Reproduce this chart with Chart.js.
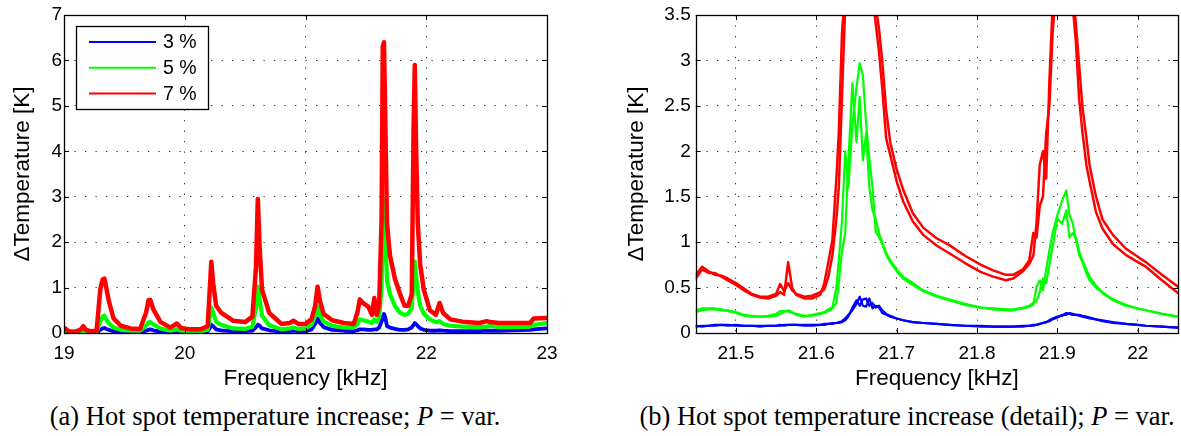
<!DOCTYPE html>
<html>
<head>
<meta charset="utf-8">
<script src="https://cdn.jsdelivr.net/npm/chart.js@4/dist/chart.umd.min.js"></script>
<style>
  html, body { margin: 0; padding: 0; background: #fff; }
  body { width: 1181px; height: 436px; position: relative; overflow: hidden; }
  .wrap { position: absolute; top: 0; height: 400px; }
  .cap { position: absolute; top: 403px; font-family: "Liberation Serif", "Times New Roman", serif; font-size: 26.5px; line-height: 26px; text-align: center; color: #000; white-space: nowrap; }
</style>
</head>
<body>
<div class="wrap" style="left:0;width:560px"><canvas id="cA" width="560" height="400"></canvas></div>
<div class="wrap" style="left:600px;width:581px"><canvas id="cB" width="581" height="400"></canvas></div>
<div class="cap" style="left:0;width:550px">(a) Hot spot temperature increase; <i>P</i> = var.</div>
<div class="cap" style="left:634px;width:546px">(b) Hot spot temperature increase (detail); <i>P</i> = var.</div>
<script>
// ---------- data: panel (a) ----------
const seriesNames = ['3 %', '5 %', '7 %'];
const seriesColors = ['#0000ff', '#00ff00', '#ff0000'];

const freqA = [19.00,19.04,19.10,19.14,19.16,19.18,19.22,19.27,19.30,19.32,19.335,19.35,19.37,19.41,19.47,19.55,19.63,19.68,19.70,19.715,19.74,19.80,19.88,19.935,19.97,20.05,20.13,20.19,20.21,20.22,20.235,20.26,20.30,20.40,20.50,20.56,20.59,20.605,20.62,20.64,20.70,20.80,20.87,20.90,20.94,21.00,21.05,21.08,21.10,21.12,21.15,21.22,21.32,21.40,21.43,21.45,21.48,21.52,21.55,21.57,21.59,21.61,21.63,21.64,21.65,21.66,21.675,21.70,21.74,21.78,21.82,21.85,21.88,21.895,21.905,21.915,21.93,21.95,21.98,22.03,22.08,22.11,22.14,22.20,22.30,22.44,22.50,22.53,22.60,22.72,22.86,22.89,23.00];
const dT7A = [0.12,0.04,0.03,0.08,0.15,0.07,0.04,0.05,0.95,1.18,1.2,1.0,0.72,0.32,0.16,0.1,0.09,0.45,0.72,0.73,0.52,0.24,0.12,0.21,0.11,0.08,0.08,0.15,1.1,1.57,1.1,0.6,0.45,0.27,0.24,0.36,1.45,2.95,1.9,0.95,0.44,0.2,0.22,0.27,0.2,0.2,0.3,0.6,1.02,0.7,0.42,0.28,0.22,0.2,0.45,0.74,0.65,0.58,0.4,0.77,0.4,0.6,2.5,6.3,6.4,4.8,2.4,1.7,1.2,0.88,0.6,0.6,0.85,4.5,5.9,4.2,2.4,1.5,0.95,0.5,0.4,0.66,0.44,0.3,0.25,0.22,0.26,0.24,0.22,0.22,0.22,0.32,0.33];
const dT5A = [0.05,0.02,0.02,0.03,0.05,0.03,0.02,0.03,0.25,0.36,0.38,0.3,0.22,0.12,0.07,0.05,0.05,0.16,0.23,0.24,0.19,0.1,0.05,0.08,0.05,0.04,0.04,0.07,0.4,0.56,0.45,0.25,0.18,0.1,0.09,0.14,0.55,1.02,0.75,0.38,0.17,0.08,0.1,0.12,0.09,0.1,0.18,0.38,0.58,0.4,0.25,0.16,0.12,0.12,0.2,0.3,0.28,0.25,0.22,0.3,0.24,0.35,1.0,2.5,2.95,2.2,1.15,0.85,0.6,0.45,0.4,0.42,0.55,1.2,1.57,1.3,0.9,0.6,0.42,0.3,0.24,0.26,0.2,0.16,0.14,0.13,0.14,0.16,0.13,0.13,0.14,0.18,0.22];
const dT3A = [0.02,0.01,0.01,0.01,0.02,0.01,0.01,0.01,0.07,0.1,0.11,0.09,0.07,0.04,0.03,0.02,0.02,0.05,0.07,0.08,0.06,0.03,0.02,0.03,0.02,0.02,0.02,0.03,0.12,0.18,0.15,0.08,0.06,0.04,0.04,0.05,0.13,0.18,0.16,0.1,0.06,0.03,0.04,0.05,0.04,0.04,0.08,0.2,0.32,0.22,0.13,0.07,0.05,0.04,0.06,0.08,0.08,0.07,0.07,0.08,0.08,0.12,0.25,0.35,0.42,0.35,0.15,0.12,0.09,0.07,0.07,0.08,0.12,0.18,0.22,0.2,0.15,0.1,0.07,0.05,0.05,0.06,0.05,0.04,0.04,0.04,0.05,0.05,0.05,0.06,0.07,0.08,0.1];
const xTicksA = [19, 20, 21, 22, 23];
const yTicksA = [0, 1, 2, 3, 4, 5, 6, 7];

// ---------- data: panel (b), two repeated runs per power level ----------
const freqB = [21.450,21.458,21.466,21.474,21.482,21.490,21.500,21.510,21.520,21.530,21.540,21.550,21.555,21.560,21.565,21.570,21.575,21.585,21.595,21.605,21.610,21.615,21.620,21.625,21.628,21.632,21.636,21.640,21.645,21.650,21.654,21.658,21.662,21.666,21.670,21.674,21.678,21.682,21.687,21.692,21.700,21.708,21.720,21.733,21.750,21.765,21.785,21.805,21.820,21.836,21.845,21.857,21.865,21.870,21.874,21.878,21.882,21.886,21.890,21.894,21.900,21.906,21.911,21.915,21.919,21.923,21.927,21.931,21.936,21.940,21.948,21.956,21.969,21.985,22.000,22.010,22.030,22.050];
const dT7B1 = [0.60,0.70,0.66,0.66,0.62,0.58,0.53,0.47,0.42,0.39,0.38,0.41,0.45,0.42,0.78,0.50,0.42,0.38,0.38,0.42,0.55,0.78,1.02,1.70,2.20,3.30,3.80,4.2,4.5,4.6,4.6,4.5,4.3,4.0,3.7,3.4,3.10,2.70,2.14,1.96,1.67,1.45,1.23,1.08,0.96,0.88,0.77,0.67,0.62,0.58,0.60,0.68,0.76,0.85,1.21,1.85,2.00,1.70,2.77,3.60,4.2,4.4,4.3,4.0,3.60,3.20,2.58,2.22,1.85,1.67,1.33,1.15,0.98,0.86,0.78,0.73,0.58,0.44];
const dT7B2 = [0.64,0.73,0.68,0.64,0.63,0.60,0.55,0.49,0.43,0.40,0.40,0.43,0.54,0.46,0.55,0.47,0.43,0.40,0.41,0.45,0.48,0.62,0.85,1.25,1.60,2.60,3.60,4.2,4.5,4.6,4.6,4.5,4.4,4.1,3.8,3.6,3.35,3.00,2.45,2.10,1.80,1.58,1.32,1.16,1.04,0.97,0.85,0.75,0.69,0.64,0.64,0.70,0.80,1.10,1.05,1.40,1.50,2.20,2.50,3.30,4.0,4.3,4.3,4.1,3.80,3.40,2.95,2.50,2.15,1.85,1.50,1.25,1.08,0.93,0.84,0.78,0.64,0.51];
const dT5B1 = [0.25,0.27,0.27,0.27,0.26,0.24,0.22,0.19,0.18,0.18,0.18,0.19,0.21,0.23,0.25,0.23,0.20,0.18,0.20,0.22,0.23,0.26,0.28,0.50,0.80,1.24,2.00,1.60,2.30,2.70,2.97,2.84,2.30,1.92,1.60,1.11,1.06,0.98,0.86,0.78,0.68,0.60,0.53,0.46,0.40,0.36,0.31,0.28,0.26,0.25,0.25,0.27,0.29,0.31,0.51,0.58,0.47,0.70,0.91,1.10,1.30,1.46,1.57,1.30,1.21,1.02,0.86,0.78,0.66,0.58,0.50,0.44,0.36,0.30,0.27,0.25,0.21,0.18];
const dT5B2 = [0.23,0.25,0.26,0.26,0.25,0.25,0.23,0.20,0.19,0.18,0.19,0.21,0.24,0.24,0.24,0.22,0.21,0.19,0.19,0.21,0.22,0.24,0.27,0.33,0.55,0.90,1.10,1.90,2.75,2.10,2.60,1.90,2.20,1.60,1.35,1.25,1.10,1.00,0.88,0.80,0.70,0.62,0.55,0.47,0.41,0.37,0.32,0.28,0.27,0.26,0.26,0.28,0.30,0.33,0.35,0.45,0.60,0.55,0.75,0.95,1.26,1.20,1.35,1.05,1.10,1.05,0.90,0.80,0.70,0.62,0.52,0.45,0.37,0.31,0.27,0.25,0.21,0.18];
const dT3B1 = [0.07,0.08,0.08,0.09,0.09,0.09,0.08,0.08,0.08,0.07,0.08,0.08,0.08,0.09,0.09,0.09,0.09,0.08,0.08,0.09,0.09,0.10,0.11,0.11,0.12,0.13,0.16,0.20,0.25,0.32,0.40,0.30,0.29,0.38,0.27,0.30,0.28,0.22,0.20,0.18,0.16,0.14,0.12,0.11,0.10,0.09,0.08,0.07,0.07,0.07,0.07,0.07,0.08,0.08,0.09,0.10,0.11,0.12,0.14,0.16,0.18,0.19,0.22,0.21,0.20,0.20,0.19,0.18,0.17,0.16,0.15,0.13,0.11,0.10,0.09,0.08,0.07,0.06];
const dT3B2 = [0.08,0.07,0.08,0.08,0.09,0.08,0.09,0.08,0.08,0.08,0.08,0.08,0.09,0.08,0.09,0.09,0.09,0.09,0.09,0.09,0.10,0.10,0.10,0.11,0.11,0.12,0.14,0.18,0.28,0.36,0.30,0.37,0.38,0.30,0.33,0.28,0.30,0.25,0.21,0.19,0.16,0.14,0.12,0.11,0.10,0.09,0.08,0.08,0.07,0.07,0.07,0.08,0.08,0.09,0.09,0.10,0.11,0.12,0.13,0.15,0.17,0.20,0.20,0.22,0.21,0.20,0.20,0.19,0.18,0.17,0.15,0.14,0.12,0.10,0.09,0.08,0.07,0.06];
const xTicksB = [21.5, 21.6, 21.7, 21.8, 21.9, 22];
const yTicksB = [0, 0.5, 1, 1.5, 2, 2.5, 3, 3.5];

// ---------- helpers ----------
const FONT = '"Liberation Sans", Arial, Helvetica, sans-serif';
function pts(xs, ys) { return xs.map((x, i) => ({ x: x, y: ys[i] })); }
function ds(label, xs, ys, color, width, order) {
  return { label: label, data: pts(xs, ys), borderColor: color, backgroundColor: color,
           borderWidth: width, pointRadius: 0, tension: 0, fill: false, order: order, showLine: true,
           borderJoinStyle: 'round', borderCapStyle: 'round' };
}

const framePlugin = {
  id: 'frame',
  afterDraw(chart, args, opts) {
    const { ctx, chartArea: a, scales: { x, y } } = chart;
    ctx.save();
    ctx.strokeStyle = '#000';
    ctx.lineWidth = 1;
    ctx.setLineDash([]);
    ctx.beginPath();
    x.ticks.forEach(t => {
      const px = Math.round(x.getPixelForValue(t.value)) + 0.5;
      ctx.moveTo(px, a.bottom); ctx.lineTo(px, a.bottom - 5);
      ctx.moveTo(px, a.top); ctx.lineTo(px, a.top + 5);
    });
    y.ticks.forEach(t => {
      const py = Math.round(y.getPixelForValue(t.value)) + 0.5;
      ctx.moveTo(a.left, py); ctx.lineTo(a.left + 5, py);
      ctx.moveTo(a.right, py); ctx.lineTo(a.right - 5, py);
    });
    ctx.stroke();
    ctx.lineWidth = 1.3;
    ctx.strokeRect(Math.round(a.left) + 0.5, Math.round(a.top) + 0.5, Math.round(a.right - a.left), Math.round(a.bottom - a.top));
    if (opts && opts.legend) {
      const L = opts.legend;
      ctx.fillStyle = '#fff';
      ctx.fillRect(L.x, L.y, L.w, L.h);
      ctx.lineWidth = 1.3;
      ctx.strokeStyle = '#000';
      ctx.strokeRect(L.x + 0.5, L.y + 0.5, L.w, L.h);
      ctx.font = '19.5px ' + FONT;
      ctx.textBaseline = 'middle';
      ctx.textAlign = 'left';
      L.names.forEach((n, i) => {
        const yy = L.y + L.first + i * L.step;
        ctx.strokeStyle = L.colors[i];
        ctx.lineWidth = 2;
        ctx.beginPath(); ctx.moveTo(L.x + 13, yy); ctx.lineTo(L.x + 80, yy); ctx.stroke();
        ctx.fillStyle = '#000';
        ctx.fillText(n, L.x + 87, yy + 1);
      });
    }
    ctx.restore();
  }
};

function makeOptions(cfg) {
  return {
    responsive: false,
    animation: false,
    devicePixelRatio: 1,
    layout: { padding: { left: 0, top: 15, right: cfg.padRight, bottom: 0 } },
    plugins: { legend: { display: false }, tooltip: { enabled: false }, frame: cfg.frame },
    scales: {
      x: {
        type: 'linear', position: 'bottom', min: cfg.xmin, max: cfg.xmax,
        afterFit: s => { s.height = 67; },
        afterBuildTicks: s => { s.ticks = cfg.xTicks.map(v => ({ value: v })); },
        ticks: { color: '#000', font: { family: FONT, size: 19 }, padding: 0, maxRotation: 0, autoSkip: false,
                 callback: v => String(v) },
        grid: { color: 'rgba(0,0,0,0.8)', lineWidth: 1, drawTicks: true, tickLength: 9.5, tickColor: 'rgba(0,0,0,0)' },
        border: { display: false, dash: [1.3, 9.2] },
        title: { display: true, text: 'Frequency [kHz]', color: '#000', font: { family: FONT, size: 22.5 },
                 padding: { top: 0, bottom: 8 } }
      },
      y: {
        type: 'linear', position: 'left', min: cfg.ymin, max: cfg.ymax,
        afterFit: s => { s.width = cfg.yWidth; },
        afterBuildTicks: s => { s.ticks = cfg.yTicks.map(v => ({ value: v })); },
        ticks: { color: '#000', font: { family: FONT, size: 19 }, padding: 0, autoSkip: false,
                 callback: v => String(v) },
        grid: { color: 'rgba(0,0,0,0.8)', lineWidth: 1, drawTicks: true, tickLength: cfg.yPad, tickColor: 'rgba(0,0,0,0)' },
        border: { display: false, dash: [1.3, 9.2] },
        title: { display: true, text: '\u0394Temperature [K]', color: '#000', font: { family: FONT, size: 22.5 },
                 padding: { top: cfg.yTitlePad, bottom: 0 } }
      }
    }
  };
}

Chart.register(framePlugin);

new Chart(document.getElementById('cA'), {
  type: 'line',
  data: {
    datasets: [
      ds(seriesNames[0], freqA, dT3A, seriesColors[0], 3.8, 3),
      ds(seriesNames[1], freqA, dT5A, seriesColors[1], 4.2, 2),
      ds(seriesNames[2], freqA, dT7A, seriesColors[2], 4.5, 1)
    ]
  },
  options: makeOptions({
    padRight: 13, xmin: 19, xmax: 23, ymin: 0, ymax: 7, xTicks: xTicksA, yTicks: yTicksA,
    yWidth: 64, yPad: 2, yTitlePad: 9.5,
    frame: { legend: { x: 76, y: 26, w: 132, h: 83, first: 16, step: 25.8, names: seriesNames, colors: seriesColors } }
  })
});

new Chart(document.getElementById('cB'), {
  type: 'line',
  data: {
    datasets: [
      ds(seriesNames[0] + ' a', freqB, dT3B1, seriesColors[0], 2.2, 6),
      ds(seriesNames[0] + ' b', freqB, dT3B2, seriesColors[0], 2.2, 5),
      ds(seriesNames[1] + ' a', freqB, dT5B1, seriesColors[1], 2.2, 4),
      ds(seriesNames[1] + ' b', freqB, dT5B2, seriesColors[1], 2.2, 3),
      ds(seriesNames[2] + ' a', freqB, dT7B1, seriesColors[2], 2.5, 2),
      ds(seriesNames[2] + ' b', freqB, dT7B2, seriesColors[2], 2.5, 1)
    ]
  },
  options: makeOptions({
    padRight: 3, xmin: 21.45, xmax: 22.05, ymin: 0, ymax: 3.5, xTicks: xTicksB, yTicks: yTicksB,
    yWidth: 95.7, yPad: 5, yTitlePad: 23.5,
    frame: {}
  })
});
</script>
</body>
</html>
